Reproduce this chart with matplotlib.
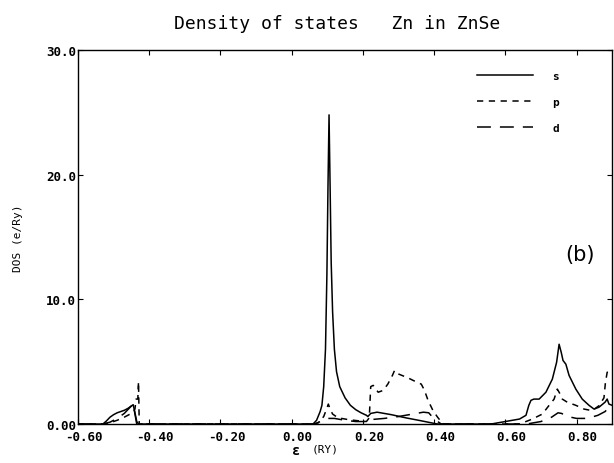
import matplotlib
matplotlib.use("Agg")
import matplotlib.pyplot as plt
from matplotlib.transforms import ScaledTranslation

plt.rcParams["lines.scale_dashes"] = False

MONO = "DejaVu Sans Mono"

# energy (Ry) and partial DOS (e/Ry)
s_e = [-0.60, -0.53, -0.52, -0.51, -0.50, -0.49, -0.48, -0.47, -0.46, -0.45, -0.445, -0.44, -0.435, -0.43,
       0.06, 0.07, 0.08, 0.085, 0.09, 0.095, 0.099, 0.102, 0.105, 0.108, 0.111, 0.115, 0.12, 0.126,
       0.135, 0.15, 0.165, 0.18, 0.195, 0.21, 0.214, 0.222, 0.24, 0.28, 0.32, 0.36, 0.40, 0.41,
       0.56, 0.58, 0.60, 0.64, 0.658, 0.666, 0.672, 0.68, 0.695, 0.714, 0.732, 0.744, 0.751, 0.757,
       0.762, 0.770, 0.779, 0.798, 0.816, 0.835, 0.849, 0.863, 0.880, 0.886, 0.891, 0.90]
s_v = [0, 0, 0.25, 0.55, 0.75, 0.9, 1.0, 1.1, 1.25, 1.45, 1.55, 0.9, 0.2, 0,
       0, 0.3, 1.0, 1.5, 3.0, 6.0, 12.0, 19.0, 24.8, 19.0, 13.0, 9.0, 6.0, 4.2,
       3.0, 2.1, 1.5, 1.15, 0.9, 0.7, 0.6, 0.85, 0.95, 0.75, 0.5, 0.28, 0.05, 0,
       0, 0.1, 0.2, 0.4, 0.7, 1.5, 1.9, 2.0, 2.0, 2.55, 3.6, 4.95, 6.4, 5.75,
       5.1, 4.8, 3.9, 2.8, 2.0, 1.5, 1.2, 1.35, 1.75, 2.0, 1.6, 1.5]

p_e = [-0.60, -0.53, -0.51, -0.49, -0.47, -0.45, -0.44, -0.437, -0.432, -0.430, -0.428,
       0.06, 0.075, 0.09, 0.098, 0.103, 0.108, 0.115, 0.13, 0.16, 0.19, 0.21, 0.218, 0.222, 0.229,
       0.243, 0.257, 0.27, 0.283, 0.289, 0.301, 0.327, 0.341, 0.364, 0.373, 0.383, 0.397, 0.41, 0.425,
       0.64, 0.676, 0.704, 0.723, 0.737, 0.746, 0.752, 0.76, 0.774, 0.798, 0.821, 0.844, 0.863,
       0.877, 0.881, 0.886, 0.895, 0.90]
p_v = [0, 0, 0.1, 0.3, 0.55, 0.85, 1.2, 2.0, 2.0, 3.4, 0,
       0, 0.1, 0.6, 1.2, 1.6, 1.2, 0.8, 0.5, 0.35, 0.25, 0.2, 0.5, 3.0, 3.1,
       2.55, 2.7, 3.2, 3.9, 4.3, 4.0, 3.7, 3.5, 3.2, 2.7, 1.9, 1.07, 0.54, 0,
       0, 0.4, 0.8, 1.5, 2.0, 2.8, 2.5, 2.0, 1.75, 1.5, 1.2, 1.07, 1.47,
       2.1, 3.3, 4.15, 4.3, 4.3]

d_e = [-0.60, -0.53, -0.51, -0.49, -0.47, -0.455, -0.445, -0.44, -0.435,
       0.065, 0.08, 0.10, 0.12, 0.15, 0.18, 0.21, 0.22, 0.26, 0.30, 0.34, 0.37, 0.385, 0.40, 0.42,
       0.66, 0.70, 0.73, 0.748, 0.758, 0.775, 0.80, 0.83, 0.86, 0.88, 0.89, 0.90]
d_v = [0, 0, 0.15, 0.45, 0.85, 1.3, 1.6, 0.8, 0,
       0, 0.2, 0.45, 0.45, 0.3, 0.2, 0.2, 0.35, 0.45, 0.6, 0.8, 0.95, 0.9, 0.4, 0,
       0, 0.2, 0.55, 0.9, 0.85, 0.6, 0.45, 0.45, 0.7, 1.0, 1.3, 1.4]

x_ticks = [-0.60, -0.40, -0.20, 0.00, 0.20, 0.40, 0.60, 0.80]
x_labels = ["-0.60", "-0.40", "-0.20", "0.00", "0.20", "0.40", "0.60", "0.80"]
y_ticks = [0, 10, 20, 30]
y_labels = ["0.00", "10.0", "20.0", "30.0"]

fig = plt.figure(figsize=(6.14, 4.64), dpi=100)
ax = fig.add_axes([0.127, 0.084, 0.870, 0.806])

ax.plot(s_e, s_v, color="black", lw=1.1, label="s")
ax.plot(p_e, p_v, color="black", lw=1.1, ls=(0, (4.5, 4.0)), label="p")
ax.plot(d_e, d_v, color="black", lw=1.1, ls=(0, (10.0, 6.5)), label="d")

ax.set_xlim(-0.60, 0.90)
ax.set_ylim(0, 30)
ax.set_xticks(x_ticks)
ax.set_xticklabels(x_labels, family=MONO, fontsize=9, fontweight="bold")
ax.set_yticks(y_ticks)
ax.set_yticklabels(y_labels, family=MONO, fontsize=9, fontweight="bold")
ax.tick_params(direction="in", length=3.5, width=0.8, top=True, right=True)
ax.tick_params(axis="x", pad=4)
ax.tick_params(axis="y", pad=1.5)
shift = ScaledTranslation(0.06, 0, fig.dpi_scale_trans)
for lab in ax.get_xticklabels():
    lab.set_transform(lab.get_transform() + shift)
for sp in ax.spines.values():
    sp.set_linewidth(1.0)

leg = ax.legend(loc="upper left", bbox_to_anchor=(0.747, 0.945), frameon=False,
                prop={"family": MONO, "size": 8, "weight": "bold"},
                handlelength=5.0, handletextpad=1.8, labelspacing=1.45,
                borderpad=0, borderaxespad=0)

ax.text(0.94, 0.455, "(b)", transform=ax.transAxes, fontsize=15, ha="center", va="center")

fig.text(0.549, 0.948, "Density of states   Zn in ZnSe", family=MONO, fontsize=13,
         ha="center", va="center")
fig.text(0.030, 0.487, "DOS (e/Ry)", family=MONO, fontsize=8, rotation=90,
         ha="center", va="center")
# x axis label: a larger epsilon followed by the unit
fig.text(0.482, 0.029, "\u03b5", family=MONO, fontsize=10, fontweight="bold",
         ha="center", va="center")
fig.text(0.530, 0.031, "(RY)", family=MONO, fontsize=8, ha="center", va="center")

fig.savefig("out.png", dpi=100)
